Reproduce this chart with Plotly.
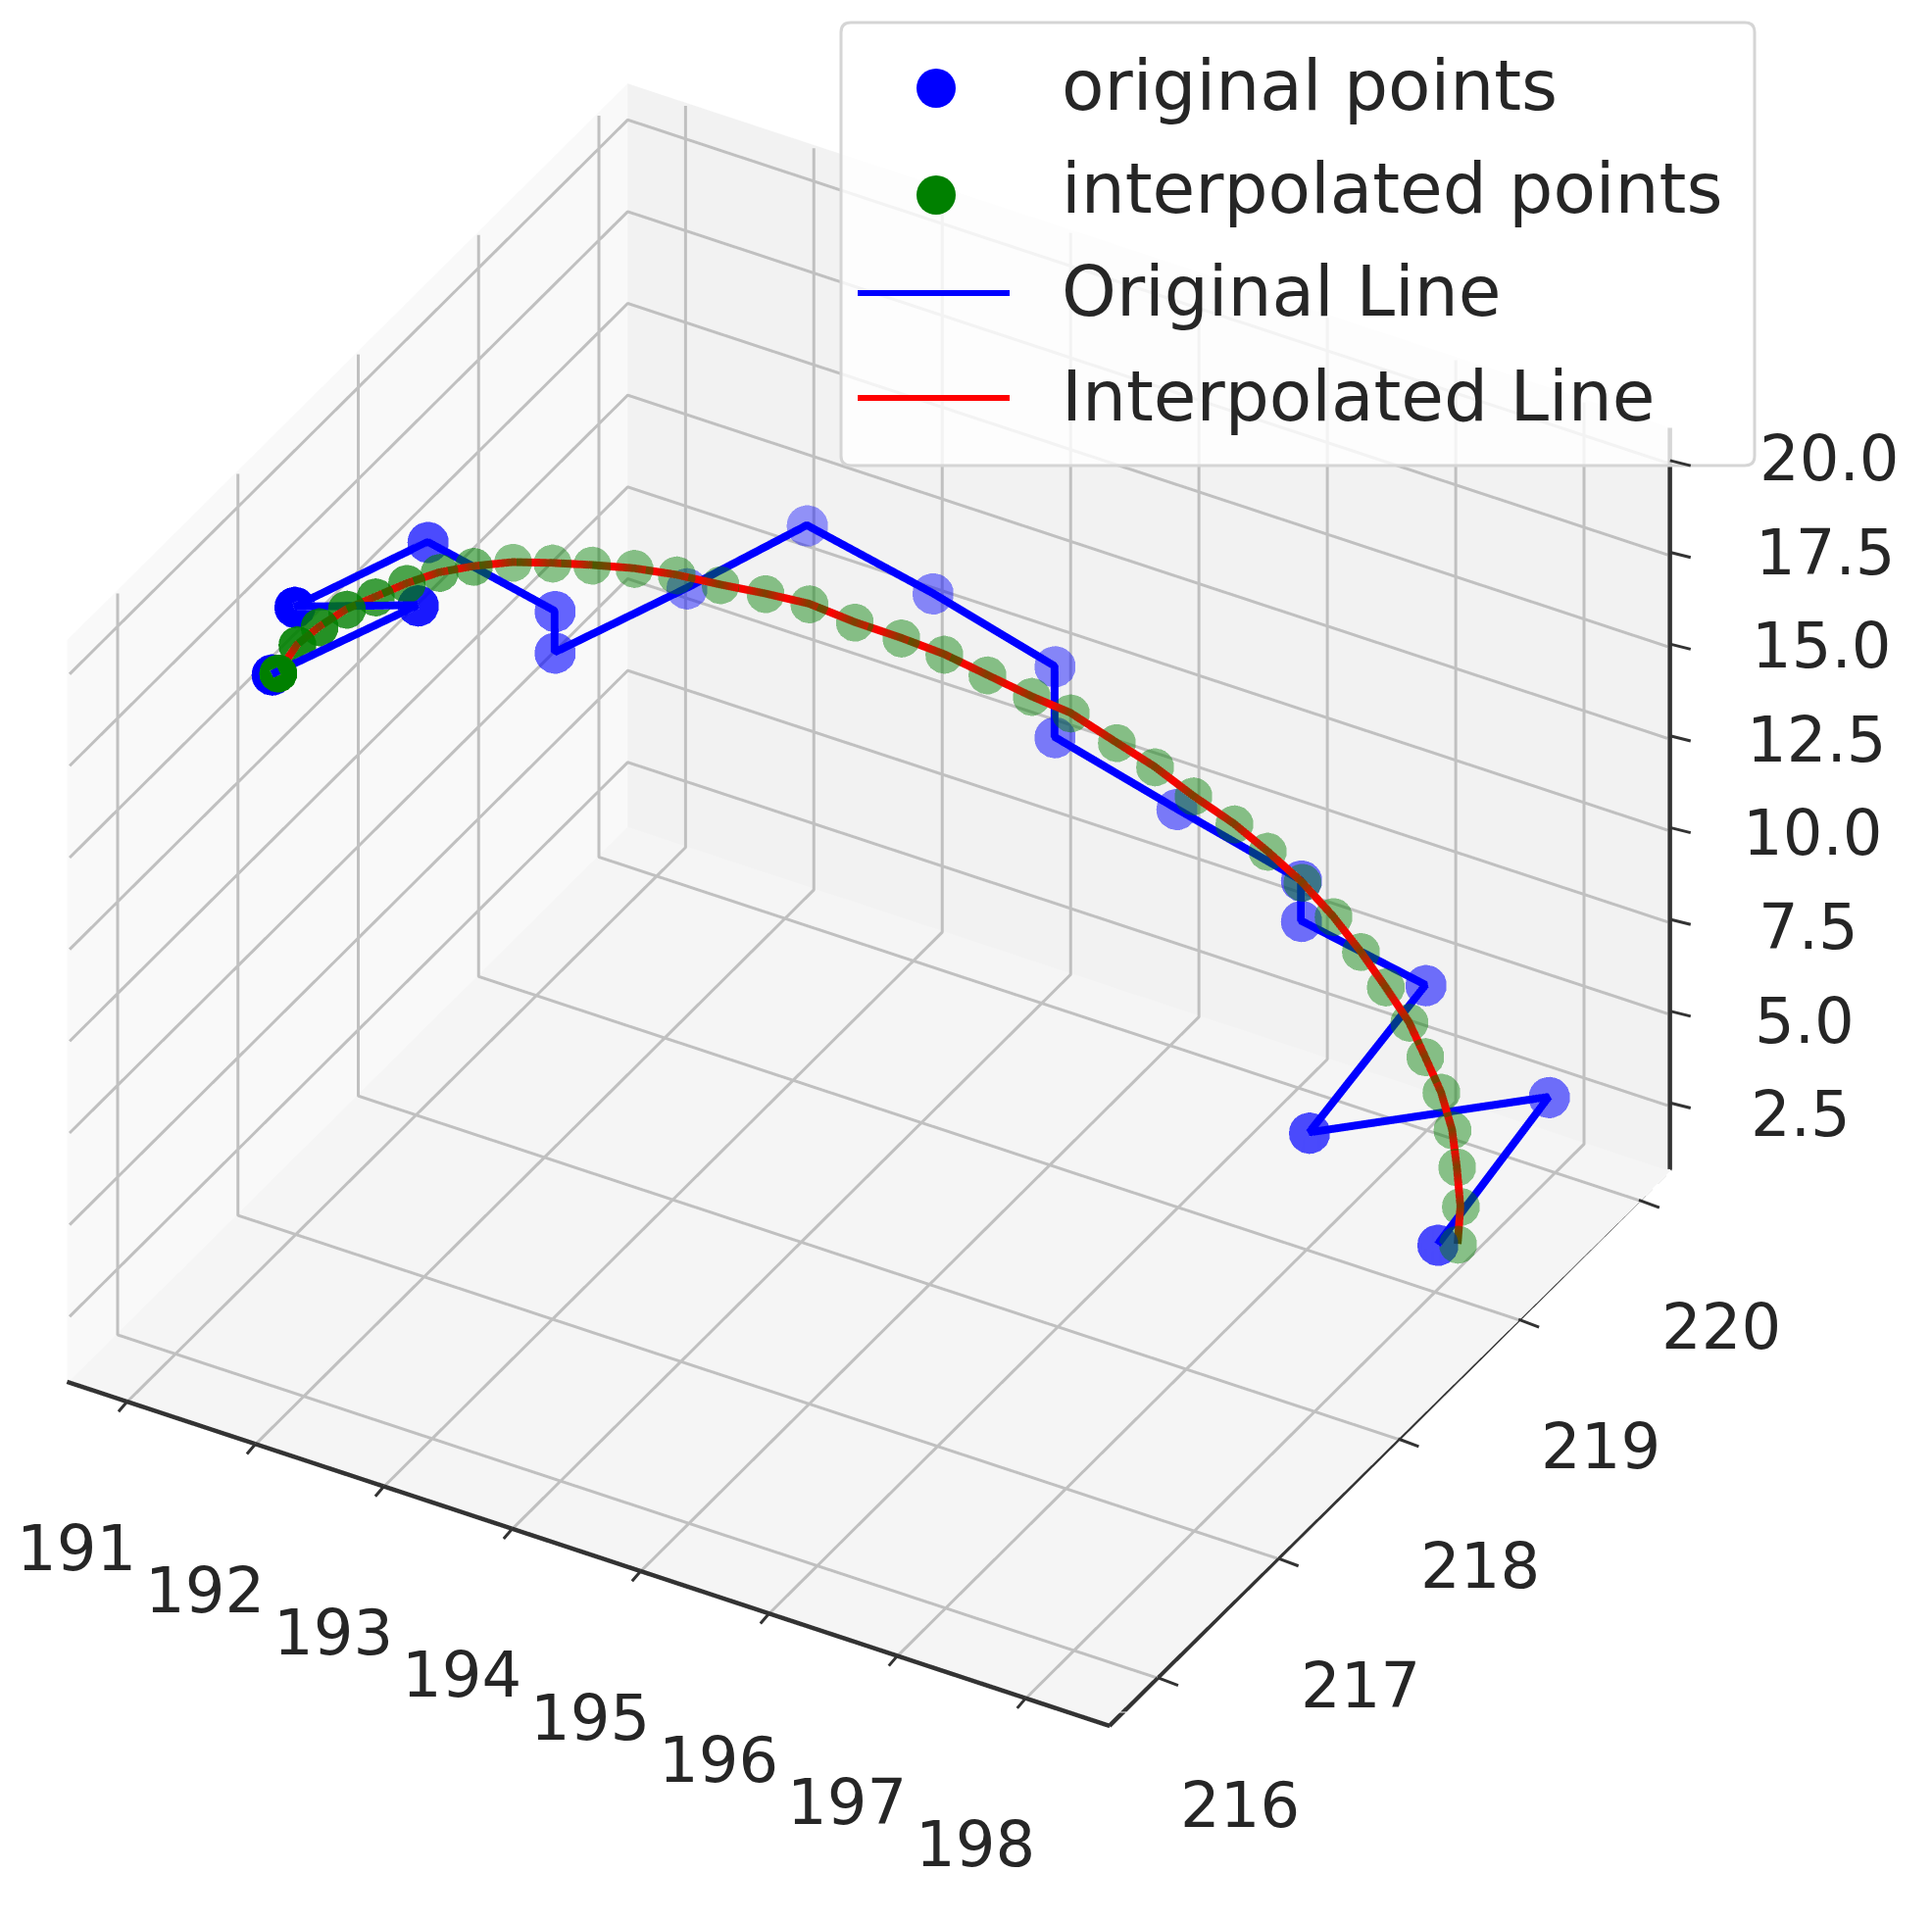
import plotly.graph_objects as go

W, H = 1971, 1961

orig_x = [198.02, 197.95, 197.02, 196.99, 196.02, 196.02, 195.05, 194.1, 194.1, 193.15, 192.17, 192.17, 192.08, 192.08, 191.09, 190.99, 191.95, 191.75]
orig_y = [219, 220, 219, 220, 220, 220, 220, 220, 220, 220, 220, 219, 218, 218, 218, 217, 217, 216]
orig_z = [2.02, 2.71, 3.92, 4.65, 5.28, 6.38, 7.21, 8.07, 10.0, 10.89, 11.61, 13.15, 14.55, 15.68, 16.42, 17.79, 18.94, 20.08]
orig_alpha = [.7, .55, .7, .55, .55, .55, .5, .5, .45, .45, .4, .45, .6, .6, .7, 1, .9, 1]

interp_x = [198.13, 198.03, 197.88, 197.74, 197.56, 197.36, 197.17, 196.93, 196.68, 196.42, 196.14, 195.86, 195.61,
            195.31, 195.02, 194.76, 194.42, 194.2, 193.92, 193.65, 193.41, 193.15, 192.88, 192.67, 192.46, 192.25,
            192.07, 191.91, 191.77, 191.64, 191.54, 191.48, 191.46, 191.46, 191.47, 191.52, 191.6, 191.76]
interp_y = [219.05, 219.18, 219.31, 219.42, 219.52, 219.6, 219.67, 219.73, 219.79, 219.84, 219.88, 219.89, 219.88,
            219.86, 219.85, 219.81, 219.79, 219.7, 219.63, 219.56, 219.46, 219.35, 219.26, 219.12, 218.97, 218.83,
            218.67, 218.49, 218.31, 218.12, 217.9, 217.68, 217.43, 217.17, 216.92, 216.64, 216.37, 216.04]
interp_z = [2.0, 2.49, 2.97, 3.46, 3.95, 4.43, 4.92, 5.41, 5.89, 6.38, 6.86, 7.35, 7.84, 8.32, 8.81, 9.3, 9.78, 10.27,
            10.76, 11.24, 11.73, 12.22, 12.7, 13.19, 13.68, 14.16, 14.65, 15.14, 15.62, 16.11, 16.6, 17.08, 17.57,
            18.05, 18.54, 19.03, 19.51, 20.0]
interp_alpha = [.45] * 30 + [.55, .6, .7, .75, .8, .85, .9, 1]

x_ticks = [191, 192, 193, 194, 195, 196, 197, 198]
y_ticks = [216, 217, 218, 219, 220]
z_ticks = [2.5, 5, 7.5, 10, 12.5, 15, 17.5, 20]
z_labels = ['2.5', '5.0', '7.5', '10.0', '12.5', '15.0', '17.5', '20.0']
legend_names = ['original points', 'interpolated points', 'Original Line', 'Interpolated Line']

x_range = [190.53, 198.65]
y_range = [215.6, 220.26]
z_range = [0.65, 20.9]


def axis(rng, pane):
    return dict(range=rng, title='', showbackground=True, backgroundcolor=pane,
                showgrid=False, showline=False, zeroline=False, showticklabels=False,
                ticks='', showspikes=False)


def with_mids(v):
    out = []
    for a, b in zip(v, v[1:]):
        out += [a, (a + b) / 2]
    return out + [v[-1]]


# grid on the floor and the two back walls, a hair inside so it does not fight the panes
xb, yb, zb = x_range[0] + 0.02, y_range[1] - 0.02, z_range[0] + 0.05
gx, gy, gz = [], [], []
for t in x_ticks:
    gx += [t, t, t, None]
    gy += [y_range[0], yb, yb, None]
    gz += [zb, zb, z_range[1], None]
for t in y_ticks:
    gx += [x_range[1], xb, xb, None]
    gy += [t, t, t, None]
    gz += [zb, zb, z_range[1], None]
for t in z_ticks:
    gx += [xb, xb, x_range[1], None]
    gy += [y_range[0], yb, yb, None]
    gz += [t, t, t, None]

fig = go.Figure()
fig.add_trace(go.Scatter3d(x=gx, y=gy, z=gz, mode='lines', hoverinfo='skip',
                           line=dict(color='#c0c0c0', width=6)))
fig.add_trace(go.Scatter3d(x=[x_range[0], x_range[1], x_range[1], x_range[1]],
                           y=[y_range[0], y_range[0], y_range[1], y_range[1]],
                           z=[zb, zb, zb, z_range[1]],
                           mode='lines', hoverinfo='skip',
                           line=dict(color='#333333', width=9)))
fig.add_trace(go.Scatter3d(x=orig_x, y=orig_y, z=orig_z, mode='lines', name=legend_names[2],
                           line=dict(color='blue', width=16)))
# the red shows through brown under each see-through green point, red between them
line_x, line_y, line_z = with_mids(interp_x), with_mids(interp_y), with_mids(interp_z)
line_colors = ['#7f4000' if i % 2 == 0 else '#ff0000' for i in range(len(line_x))]
fig.add_trace(go.Scatter3d(x=line_x, y=line_y, z=line_z, mode='lines', name=legend_names[3],
                           line=dict(color=line_colors, width=16)))
# per point alpha comes out of the shader unmultiplied, so scale the colour by hand
fig.add_trace(go.Scatter3d(x=orig_x, y=orig_y, z=orig_z, mode='markers', name=legend_names[0],
                           marker=dict(size=24.5, color=[f'rgba(0,0,{int(255 * a)},{a})' for a in orig_alpha])))
fig.add_trace(go.Scatter3d(x=interp_x, y=interp_y, z=interp_z, mode='markers', name=legend_names[1],
                           marker=dict(size=22.5, color=[f'rgba(0,{int(128 * a)},0,{a})' for a in interp_alpha])))

ann = []
font = dict(family='DejaVu Sans', size=64, color='#262626')


def tick(x, y, z, ax, ay):
    ann.append(dict(x=x, y=y, z=z, text=' ', showarrow=True, arrowhead=0, arrowwidth=3,
                    arrowcolor='#333333', ax=ax, ay=ay, standoff=0))


def label(x, y, z, text, xs, ys):
    ann.append(dict(x=x, y=y, z=z, text=text, showarrow=False, font=font,
                    xanchor='center', yanchor='middle', xshift=xs, yshift=ys))


for t in x_ticks:
    tick(t, y_range[0], zb, -12, 14)
    label(t, y_range[0], zb, str(t), -52, -150)
for t in y_ticks:
    tick(x_range[1], t, zb, 24, 9)
    label(x_range[1], t, zb, str(t), 84, -130)
for t, s in zip(z_ticks, z_labels):
    tick(x_range[1], y_range[1], t, 24, 6)
    label(x_range[1], y_range[1], t, s, 133 + (t - 2.5) * 1.7, -12 + (t - 2.5) * 0.8)


# legend, page body has an 8 px margin
def px(v):
    return (v - 8) / W


def py(v):
    return 1 - (v - 8) / H


x0, x1, y0, y1, r = px(858), px(1790), py(23), py(475), 10 / W
ry = 10 / H
box = (f'M {x0 + r} {y0} L {x1 - r} {y0} Q {x1} {y0} {x1} {y0 - ry} L {x1} {y1 + ry} Q {x1} {y1} {x1 - r} {y1} '
       f'L {x0 + r} {y1} Q {x0} {y1} {x0} {y1 + ry} L {x0} {y0 - ry} Q {x0} {y0} {x0 + r} {y0} Z')
shapes = [dict(type='path', xref='paper', yref='paper', path=box,
               fillcolor='rgba(255,255,255,0.8)', line=dict(color='#d5d5d5', width=3))]
rows = [90, 195, 299, 406]
for color, row in zip(['blue', 'green'], [90, 199]):
    shapes.append(dict(type='circle', xref='paper', yref='paper', x0=px(935), x1=px(975),
                       y0=py(row - 20), y1=py(row + 20), fillcolor=color, line=dict(width=0)))
for color, row in zip(['blue', 'red'], rows[2:]):
    shapes.append(dict(type='line', xref='paper', yref='paper', x0=px(875), x1=px(1030),
                       y0=py(row), y1=py(row), line=dict(color=color, width=6)))
paper_ann = []
for name, row in zip(legend_names, rows):
    paper_ann.append(dict(xref='paper', yref='paper', x=px(1081), y=py(row - 2), text=name, showarrow=False,
                          xanchor='left', yanchor='middle',
                          font=dict(family='DejaVu Sans', size=71, color='#262626')))

fig.update_layout(
    width=W, height=H, margin=dict(l=0, r=0, t=0, b=0), showlegend=False,
    paper_bgcolor='white', shapes=shapes, annotations=paper_ann,
    scene=dict(
        domain=dict(x=[0, 0.891], y=[0.066, 1]),
        xaxis=axis(x_range, '#f9f9f9'),
        yaxis=axis(y_range, '#f2f2f2'),
        zaxis=axis(z_range, '#f5f5f5'),
        aspectmode='manual',
        aspectratio=dict(x=1.34, y=1.25, z=1.01),
        annotations=ann,
        camera=dict(projection=dict(type='orthographic'),
                    eye=dict(x=0.565, y=-0.98, z=0.79),
                    center=dict(x=0, y=0, z=0), up=dict(x=0, y=0, z=1)),
    ),
)
fig.write_html("out.html")
